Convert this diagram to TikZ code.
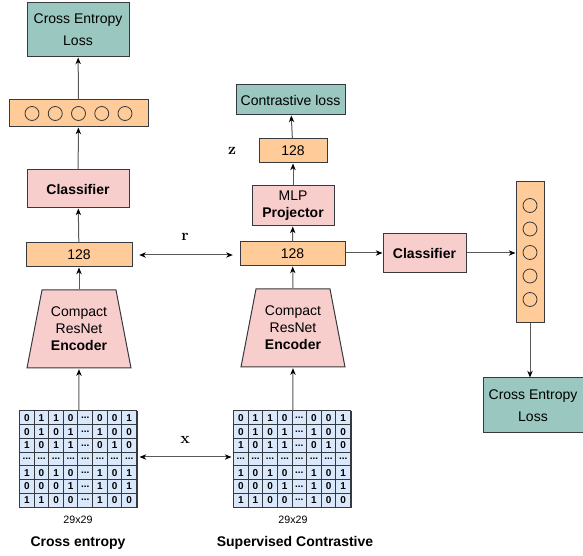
\documentclass[tikz,border=0pt]{standalone}
\usepackage[no-math]{fontspec}
\setmainfont{Liberation Sans}
\usetikzlibrary{arrows.meta,calc}

\definecolor{lossfill}{HTML}{9AC7BF}
\definecolor{vecfill}{HTML}{FFCC99}
\definecolor{netfill}{HTML}{F8CECC}
\definecolor{bitfill}{HTML}{DAE8FC}
\definecolor{edge}{HTML}{36393D}

\newcommand{\bitdots}{...}
% cells of a 29x29 input, drawn inside the grid node #1
\newcommand{\drawbits}[1]{%
  \foreach \bitrow [count=\j] in {{0,1,1,0,\bitdots,0,0,1},{0,1,0,1,\bitdots,1,0,0},
      {1,0,1,1,\bitdots,0,1,0},{\bitdots,\bitdots,\bitdots,\bitdots,\bitdots,\bitdots,\bitdots,\bitdots},
      {1,0,1,0,\bitdots,1,0,1},{0,0,0,1,\bitdots,1,0,1},{1,1,0,0,\bitdots,1,0,0}}
    \foreach \bit [count=\i] in \bitrow
      \node [bitcell] (#1-\j-\i) at ($(#1.north west)+(\i*14.625-7.3125,\j*13.714-6.857)$) {\bit};
}

\tikzset{every picture/.style={line width=0.75pt}}
\tikzset{
  box/.style={draw=edge, rectangle, inner sep=0pt, align=center,
    font=\fontsize{10.5}{16.5}\selectfont},
  lossbox/.style={box, fill=lossfill},
  vecbox/.style={box, fill=vecfill},
  netbox/.style={box, fill=netfill, font=\fontsize{10.5}{12.75}\selectfont},
  encbox/.style={rectangle, inner sep=0pt, minimum width=79pt, minimum height=59.5pt,
    align=center, font=\fontsize{10.5}{12.75}\selectfont,
    path picture={\draw [draw=edge, fill=netfill]
      ([shift={(0.5pt,0.5pt)}]path picture bounding box.south west) --
      ([shift={(-0.5pt,0.5pt)}]path picture bounding box.south east) --
      ([shift={(-11.75pt,-0.5pt)}]path picture bounding box.north east) --
      ([shift={(11.75pt,-0.5pt)}]path picture bounding box.north west) -- cycle;}},
  unit/.style={draw=edge, line width=0.6pt},
  gridbox/.style={draw=edge, fill=bitfill, rectangle, inner sep=0pt,
    minimum width=87.75pt, minimum height=72pt},
  bitcell/.style={draw=edge, fill=bitfill, rectangle, inner sep=0pt,
    minimum width=10.97pt, minimum height=10.29pt,
    font=\fontsize{7.5}{8}\selectfont\bfseries},
  flow/.style={draw=black!65, -{Stealth[length=5pt,width=4pt,inset=1.5pt,color=black]}},
  link/.style={draw=black!65, {Stealth[length=5pt,width=4pt,inset=1.5pt,color=black]}-{Stealth[length=5pt,width=4pt,inset=1.5pt,color=black]}},
  caption/.style={font=\fontsize{8}{9}\selectfont},
  title/.style={font=\fontsize{10.5}{12}\selectfont\bfseries},
  sym/.style={font=\fontsize{12}{13}\selectfont}
}

\begin{document}
\begin{tikzpicture}[x=0.75pt,y=0.75pt,yscale=-1,xscale=1]
%set diagram size
\useasboundingbox (0,0) rectangle (583,556);

%Cross entropy branch
\node [lossbox, minimum width=76.5pt, minimum height=40.5pt] (lossL) at (78,30) {Cross Entropy\\Loss};
\node [vecbox, minimum width=104.25pt, minimum height=20.25pt] (outL) at (78.5,113.5) {};
\foreach \dx in {-46.5,-23.25,0,23.25,46.5}
  \draw [unit] ($(outL.center)+(\dx,0)$) circle (7);
\node [netbox, minimum width=76.5pt, minimum height=28.5pt] (clsL) at (78,189) {\textbf{Classifier}};
\node [vecbox, minimum width=79.5pt, minimum height=18pt] (repL) at (79,255) {128};
\node [encbox] (encL) at (79,329) {Compact\\ResNet\\\textbf{Encoder}};
\node [gridbox] (gridL) at (78.5,459.5) {};
\drawbits{gridL}
\node [caption] (sizeL) at (78,520) {29x29};
\node [title] (nameL) at (78,543) {Cross entropy};

%Supervised contrastive branch
\node [lossbox, minimum width=81.75pt, minimum height=22.5pt] (lossS) at (290.5,100) {Contrastive loss};
\node [vecbox, minimum width=51pt, minimum height=18pt] (projS) at (293,151) {128};
\node [netbox, minimum width=61.5pt, minimum height=30pt] (mlpS) at (293,206) {MLP\\\textbf{Projector}};
\node [vecbox, minimum width=78.75pt, minimum height=18pt] (repS) at (292.5,254) {128};
\node [encbox] (encS) at (293,328) {Compact\\ResNet\\\textbf{Encoder}};
\node [gridbox] (gridS) at (292.5,459.5) {};
\drawbits{gridS}
\node [caption] (sizeS) at (293,520) {29x29};
\node [title] (nameS) at (295,543) {Supervised Contrastive};

%Linear classifier on frozen features
\node [netbox, minimum width=62.25pt, minimum height=29.25pt] (clsR) at (424.5,253) {\textbf{Classifier}};
\node [vecbox, minimum width=21pt, minimum height=105.75pt] (outR) at (530,252.5) {};
\foreach \dy in {-47,-23.5,0,23.5,47}
  \draw [unit] ($(outR.center)+(0,\dy)$) circle (7);
\node [lossbox, minimum width=75pt, minimum height=41.25pt] (lossR) at (533,405.5) {Cross Entropy\\Loss};

%labels
\node [sym] (zlab) at (232,151) {$\mathbf{z}$};
\node [sym] (rlab) at (185,237) {$\mathbf{r}$};
\node [sym] (xlab) at (185,440) {$\mathbf{x}$};

%connectors
\draw [flow] (outL) -- (lossL);
\draw [flow] (clsL) -- (outL);
\draw [flow] (repL) -- (clsL);
\draw [flow] (encL.north) -- (repL);
\draw [flow] (gridL) -- (encL.south);
\draw [flow] (projS) -- (lossS);
\draw [flow] (mlpS) -- (projS);
\draw [flow] (repS) -- (mlpS);
\draw [flow] (encS.north) -- (repS);
\draw [flow] (gridS) -- (encS.south);
\draw [flow] (clsR.west -| repS.east) -- (clsR.west);
\draw [flow] (clsR.east) -- (clsR.east -| outR.west);
\draw [flow] (outR) -- (lossR.north -| outR);
\draw [link, shorten <=5pt, shorten >=5pt] (repL.east) -- (repL.east -| repS.west);
\draw [link, shorten <=1.5pt, shorten >=1.5pt] ($(gridL.east)+(0,-2.5)$) -- ($(gridS.west)+(0,-2.5)$);

\end{tikzpicture}
\end{document}
